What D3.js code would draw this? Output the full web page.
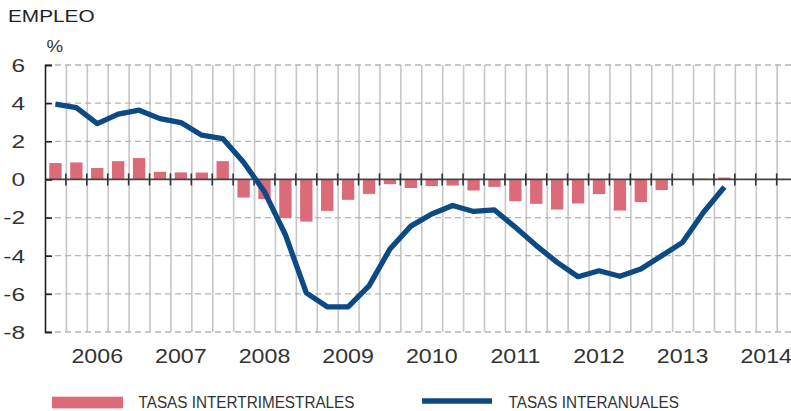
<!DOCTYPE html>
<html>
<head>
<meta charset="utf-8">
<script src="https://cdn.jsdelivr.net/npm/d3@7"></script>
<style>
  body { margin: 0; background: #fff; }
  svg { display: block; font-family: "Liberation Sans", Arial, sans-serif; }
</style>
</head>
<body>
<div id="chart"></div>
<script>
// years shown on the x axis, one band of four quarters each
var years = [2006, 2007, 2008, 2009, 2010, 2011, 2012, 2013, 2014];
var yTicks = [6, 4, 2, 0, -2, -4, -6, -8];

// quarterly rates, 2006 Q1 .. 2014 Q1
var intertrimestral = [0.86, 0.89, 0.60, 0.96, 1.12, 0.40, 0.37, 0.36, 0.96, -0.95,
    -1.03, -2.03, -2.21, -1.65, -1.07, -0.76, -0.25, -0.45, -0.35, -0.32,
    -0.58, -0.39, -1.14, -1.28, -1.58, -1.26, -0.77, -1.63, -1.19, -0.56,
    -0.03, 0.04, 0.10];
var interanual = [3.95, 3.77, 2.93, 3.42, 3.63, 3.19, 2.98, 2.32, 2.14, 0.90,
    -0.65, -2.90, -5.95, -6.68, -6.68, -5.58, -3.65, -2.45, -1.81, -1.37,
    -1.68, -1.60, -2.51, -3.47, -4.35, -5.10, -4.79, -5.08, -4.70, -4.00,
    -3.30, -1.72, -0.40];

var quarters = [];
years.forEach(function(y){
    for (var q = 1; q <= 4; q++) quarters.push(y + "Q" + q);
});

var width = 791, height = 411;
var plotLeft = 45, plotTop = 65, plotBottom = 332;
var step = 20.905;
var plotRight = plotLeft + quarters.length * step;

var barColor = "#dc6b7a", lineColor = "#0d4a84";

var svg = d3.select("#chart").append("svg")
    .attr("width", width)
    .attr("height", height);

// slot index scale (quarter boundaries) and band scale for bars
var xq = d3.scaleLinear().domain([0, quarters.length]).range([plotLeft, plotRight]);
var xb = d3.scaleBand().domain(quarters).range([plotLeft, plotRight])
    .paddingInner(0.41).paddingOuter(0.205);
var y = d3.scaleLinear().domain([-8, 6]).range([plotBottom, plotTop]);

// stretched text helper
var label = function(sel, x, yy, sx){
    return sel.attr("transform", "translate(" + x + "," + yy + ") scale(" + sx + ",1)");
};

// vertical quarter grid
var vGrid = d3.axisBottom(xq)
    .tickValues(d3.range(1, quarters.length))
    .tickSize(plotBottom - plotTop)
    .tickFormat("");
svg.append("g")
    .attr("transform", "translate(0," + plotTop + ")")
    .call(vGrid)
    .call(function(g){
	g.select(".domain").remove();
	g.selectAll("line").attr("stroke", "#c6c6c6").attr("stroke-width", 1.6);
    });

// dashed horizontal grid
svg.append("g").selectAll("line")
    .data(yTicks.filter(function(d){ return d != 0; }))
    .enter().append("line")
    .attr("x1", plotLeft).attr("x2", width)
    .attr("y1", function(d){ return y(d); })
    .attr("y2", function(d){ return y(d); })
    .attr("stroke", "#b4b4b4")
    .attr("stroke-width", 1.3)
    .attr("stroke-dasharray", "6,4");

// bars
svg.append("g").selectAll("rect")
    .data(intertrimestral)
    .enter().append("rect")
    .attr("x", function(d, i){ return xb(quarters[i]); })
    .attr("width", xb.bandwidth())
    .attr("y", function(d){ return y(Math.max(0, d)); })
    .attr("height", function(d){ return Math.abs(y(d) - y(0)); })
    .attr("fill", barColor);

// zero line with quarter ticks
var zero = svg.append("g");
zero.append("line")
    .attr("x1", plotLeft).attr("x2", width)
    .attr("y1", y(0)).attr("y2", y(0))
    .attr("stroke", "#444").attr("stroke-width", 1.8);
zero.selectAll(".qt")
    .data(d3.range(1, quarters.length + 1))
    .enter().append("line")
    .attr("class", "qt")
    .attr("x1", function(d){ return xq(d); })
    .attr("x2", function(d){ return xq(d); })
    .attr("y1", y(0) - 6).attr("y2", y(0) + 6)
    .attr("stroke", "#333").attr("stroke-width", 1.6);

// left axis, ticks pointing inward
var sx = 1.4;
var yAxis = d3.axisLeft(y).tickValues(yTicks).tickSize(-7).tickPadding(20)
    .tickFormat(d3.format("d"));
svg.append("g")
    .attr("transform", "translate(" + plotLeft + ",0)")
    .call(yAxis)
    .call(function(g){
	g.select(".domain").attr("stroke", "#222").attr("stroke-width", 1.6);
	g.selectAll(".tick line").attr("stroke", "#222").attr("stroke-width", 1.6);
	g.selectAll(".tick text")
	    .attr("font-size", 17.5)
	    .attr("fill", "#333")
	    .attr("x", -20 / sx)
	    .attr("dy", "0.36em")
	    .attr("transform", "scale(" + sx + ",1)")
	    .text(function(d){ return d < 0 ? "-" + (-d) : d; });
    });

// line
var line = d3.line()
    .x(function(d, i){ return xb(quarters[i]) + xb.bandwidth() / 2; })
    .y(function(d){ return y(d); });
svg.append("path")
    .datum(interanual)
    .attr("d", line)
    .attr("fill", "none")
    .attr("stroke", lineColor)
    .attr("stroke-width", 5.3)
    .attr("stroke-linejoin", "round");

// year labels
svg.append("g").selectAll("text")
    .data(years)
    .enter().append("text")
    .attr("font-size", 20)
    .attr("fill", "#333")
    .attr("text-anchor", "middle")
    .text(function(d){ return d; })
    .each(function(d, i){
	label(d3.select(this), xq(i * 4 + 2.5), 363, 1.16);
    });

// title and unit
label(svg.append("text").attr("font-size", 16).attr("fill", "#222").text("EMPLEO"), 8, 21.7, 1.3);
label(svg.append("text").attr("font-size", 17).attr("fill", "#333").text("%"), 46.5, 51.7, 1.1);

// legend
svg.append("rect")
    .attr("x", 52).attr("y", 396.7)
    .attr("width", 71).attr("height", 11.7)
    .attr("fill", barColor);
label(svg.append("text").attr("font-size", 17).attr("fill", "#333")
      .text("TASAS INTERTRIMESTRALES"), 138.5, 407.5, 0.9);

svg.append("line")
    .attr("x1", 422).attr("x2", 492)
    .attr("y1", 401).attr("y2", 401)
    .attr("stroke", lineColor).attr("stroke-width", 5.5);
label(svg.append("text").attr("font-size", 17).attr("fill", "#333")
      .text("TASAS INTERANUALES"), 508.5, 407.5, 0.9);
</script>
</body>
</html>
